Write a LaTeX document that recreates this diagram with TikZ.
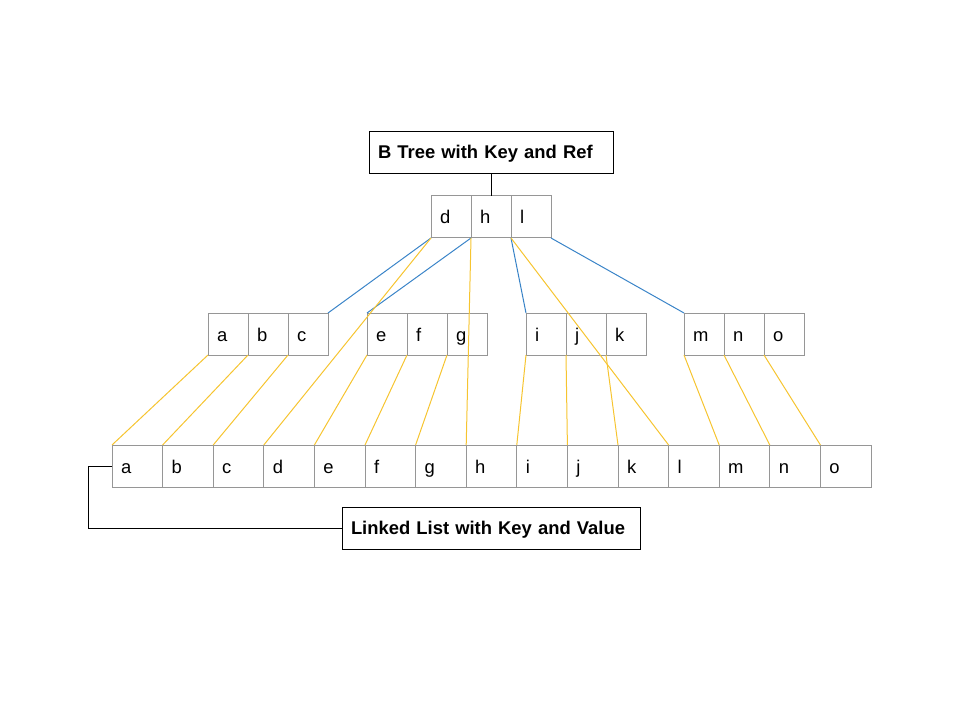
\documentclass[tikz,border=0pt]{standalone}
\usepackage{fontspec}
\setmainfont{Liberation Sans}
\usetikzlibrary{positioning}
\definecolor{refblue}{RGB}{58,132,200}
\definecolor{keyyellow}{RGB}{246,196,48}
\definecolor{cellgray}{RGB}{150,150,150}

\begin{document}
\begin{tikzpicture}
  [x=0.75pt,y=-0.75pt,
  every node/.style={font=\fontsize{13.8}{16}\selectfont,outer sep=0pt},
  cell/.style={draw=cellgray,line width=0.75pt,minimum height=31.5pt,
    inner xsep=6.75pt,inner ysep=0pt,text width=16.5pt,align=left,
    text height=12pt,text depth=1.5pt},
  list cell/.style={cell,text width=24.45pt},
  caption box/.style={draw=black,line width=0.75pt,minimum height=31.5pt,
    inner xsep=6.75pt,inner ysep=0pt,align=left,text height=12pt,text depth=3pt,
    font=\fontsize{13.8}{16}\selectfont\bfseries},
  ref line/.style={draw=refblue,line width=0.75pt},
  key line/.style={draw=keyyellow,line width=0.75pt}]
  \useasboundingbox (0,0) rectangle (960,720);

  % root of the b tree
  \node [caption box,text width=169.5pt,anchor=north west] (btree) at (369,132)
  {B Tree with Key and Ref};
  \node [cell,anchor=north west] (d) at (431,196) {d};
  \node [cell,right=0pt of d] (h) {h};
  \node [cell,right=0pt of h] (l) {l};
  \draw (btree.south) -- (h.north);

  % second level
  \foreach \x/\p/\q/\r in {208/a/b/c,367/e/f/g,526/i/j/k,684/m/n/o}
  {
    \node [cell,anchor=north west] (\p) at (\x,313) {\p};
    \node [cell,right=0pt of \p] (\q) {\q};
    \node [cell,right=0pt of \q] (\r) {\r};
  }
  \draw [ref line] (d.south west) -- (c.north east);
  \draw [ref line] (h.south west) -- (e.north west);
  \draw [ref line] (l.south west) -- (i.north west);
  \draw [ref line] (l.south east) -- (m.north west);

  % linked list
  \foreach \k [count=\i from 0] in {a,b,c,d,e,f,g,h,i,j,k,l,m,n,o}
    \node [list cell,anchor=north west] (\k') at ({112+50.6*\i},445) {\k};
  \foreach \k in {a,b,c,d,e,f,g,h,i,j,k,l,m,n,o}
    \draw [key line] (\k.south west) -- (\k'.north west);

  \node [caption box,text width=210pt,anchor=north west] (list) at (342,507)
  {Linked List with Key and Value};
  \draw (list.west) -- ++(-254,0) |- (a'.west);
\end{tikzpicture}
\end{document}
